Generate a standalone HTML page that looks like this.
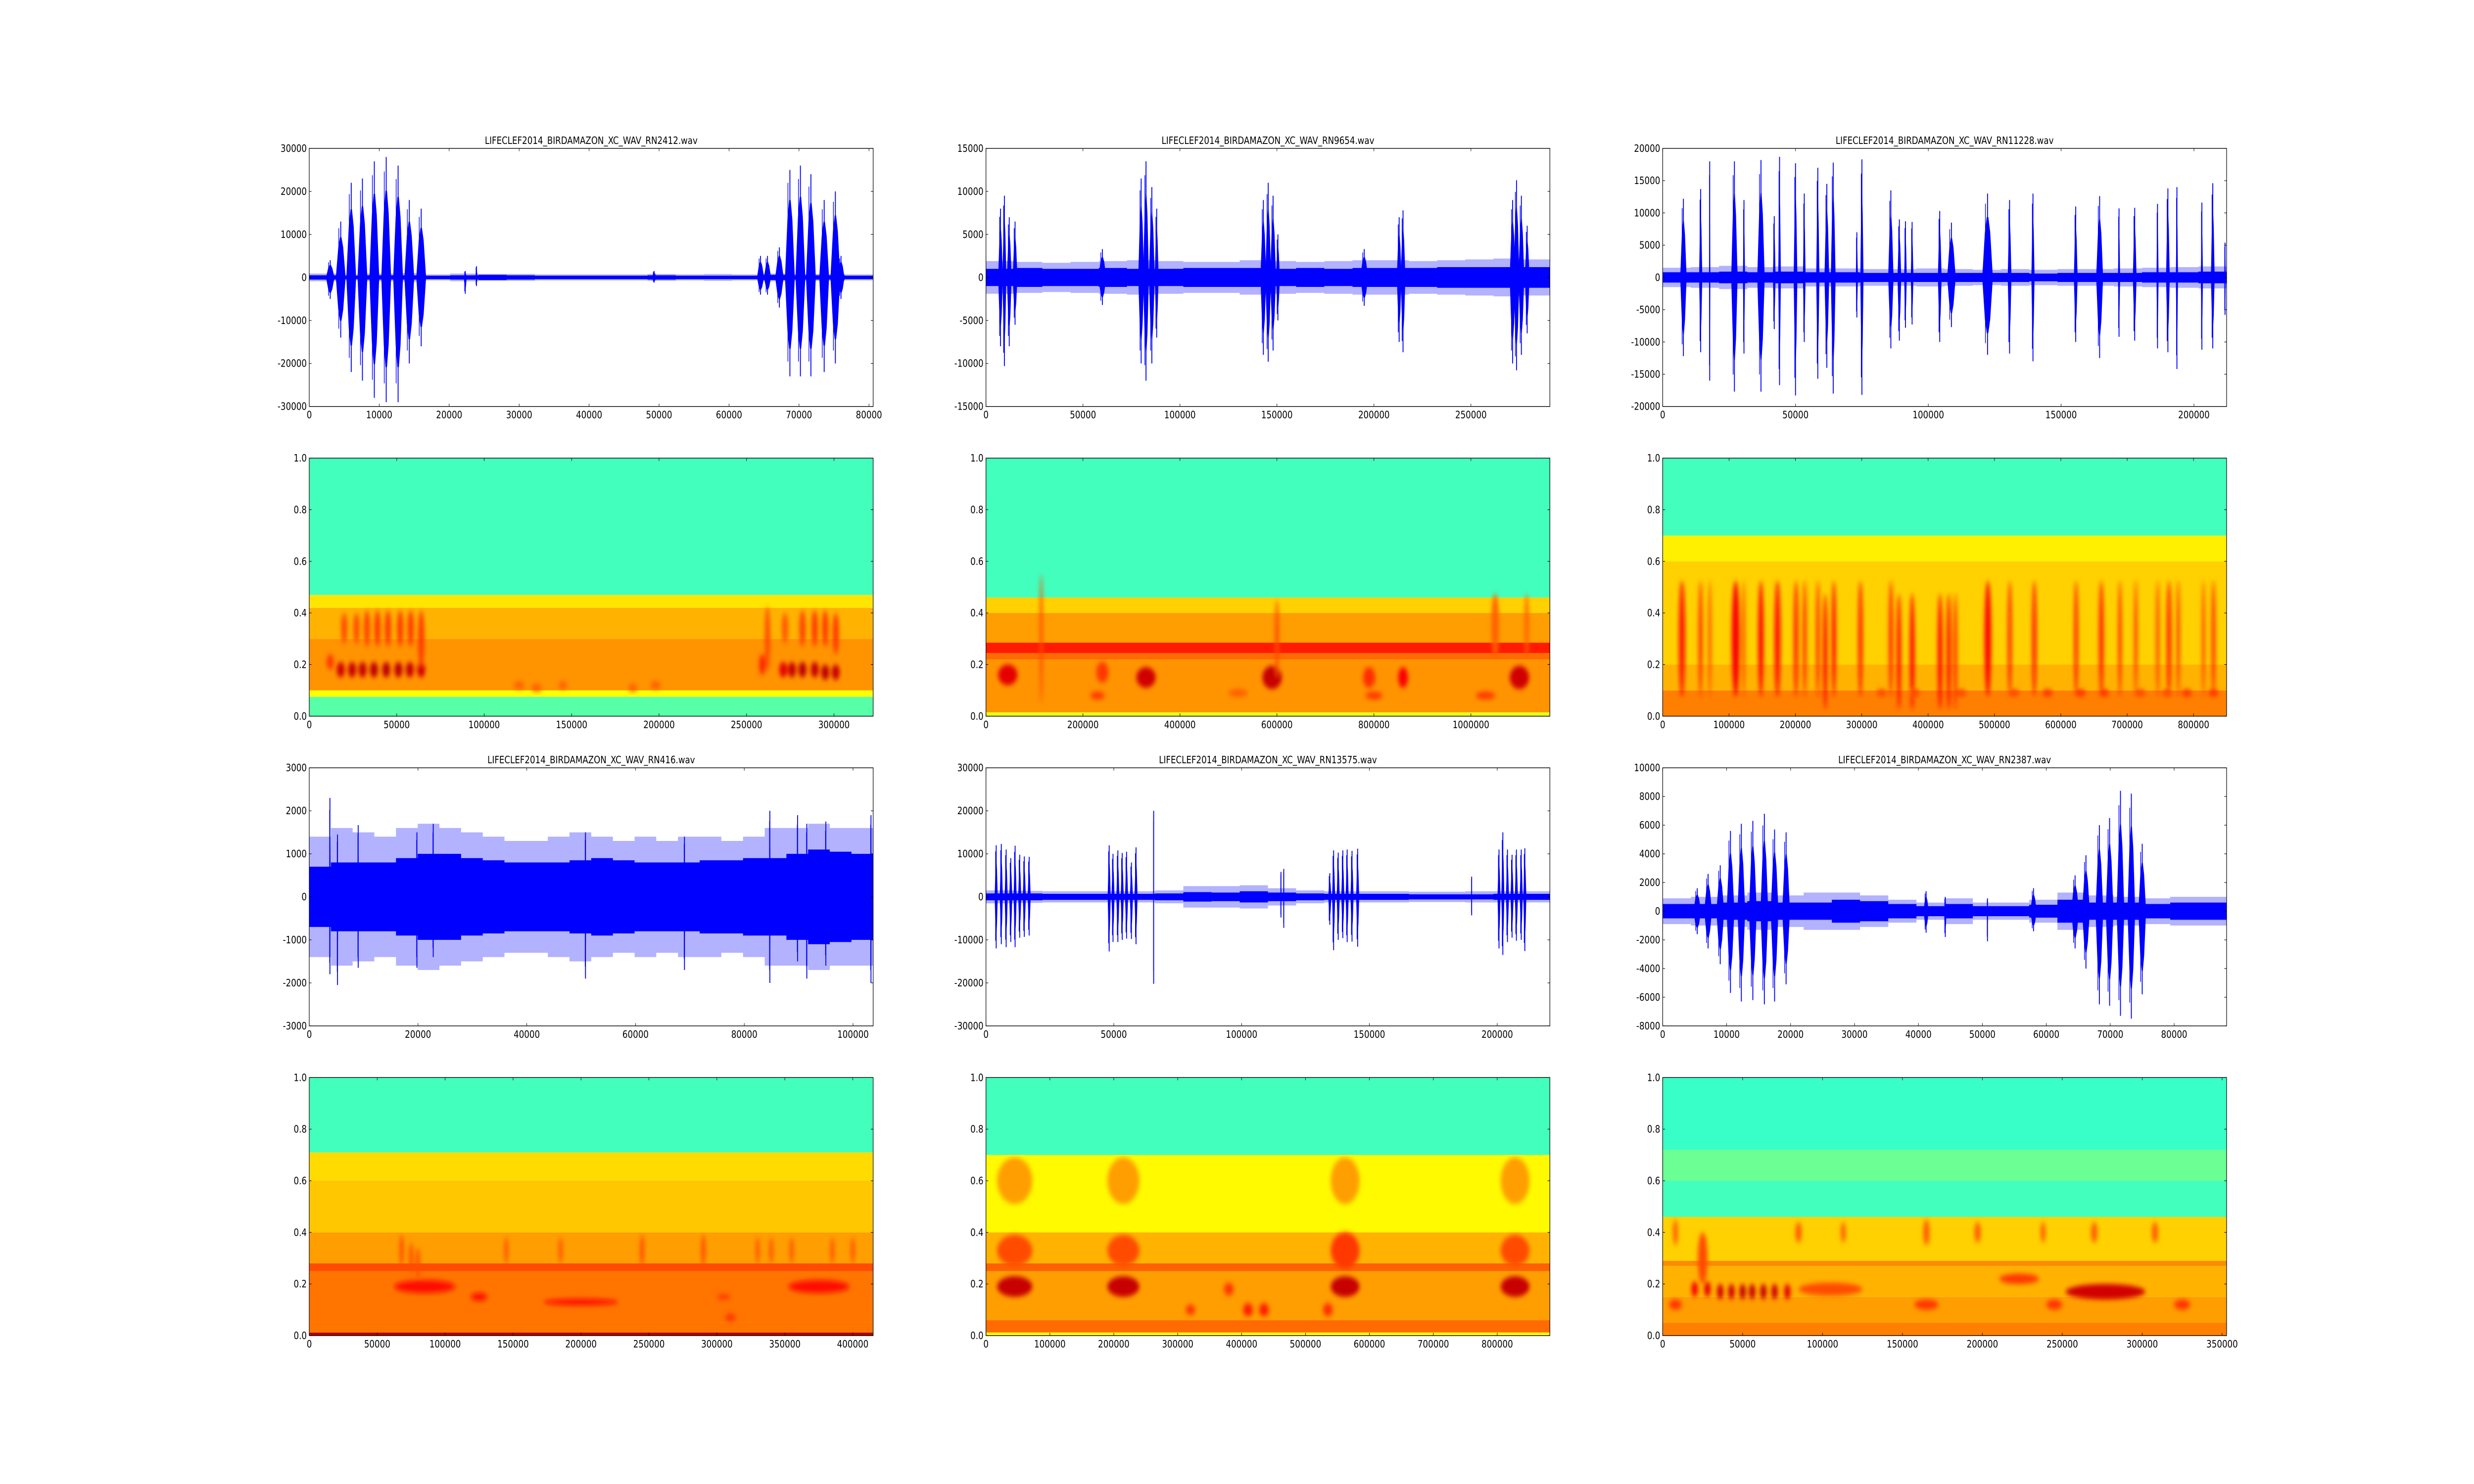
<!DOCTYPE html>
<html>
<head>
<meta charset="utf-8">
<style>
html,body{margin:0;padding:0;background:#fff;overflow:hidden;width:100vw;height:100vh;}
svg{display:block;width:100vw;height:100vh;}
text{font-family:"DejaVu Sans","Liberation Sans",sans-serif;font-size:20px;fill:#000;}
</style>
</head>
<body>
<svg id="fig" xmlns="http://www.w3.org/2000/svg" viewBox="0 0 6000 3000" preserveAspectRatio="none">
<defs>
<filter id="bl" x="-50%" y="-50%" width="200%" height="200%"><feGaussianBlur stdDeviation="5"/></filter>
</defs>
<rect x="0" y="0" width="6000" height="3000" fill="#fff"/>
</svg>
<script>
// ---------- Waveform data ----------
const w1Title = "LIFECLEF2014_BIRDAMAZON_XC_WAV_RN2412.wav";
const w1XTicks = [0,10000,20000,30000,40000,50000,60000,70000,80000];
const w1YTicks = [-30000,-20000,-10000,0,10000,20000,30000];
const w1Range = [80600,-30000,30000];
const w1Sylls = [[3000,600,4000,-5000],[4500,700,13000,-14000],[6000,700,22000,-22000],[7600,700,23000,-24000],[9300,700,27000,-28000],[11000,700,28000,-29000],[12700,700,26000,-29000],[14300,700,18000,-20000],[16000,700,16000,-16000],[22300,200,1500,-3800],[23900,150,2600,-2000],[49300,300,1500,-1200],[64500,500,5000,-4000],[65500,500,5000,-4000],[67200,600,7000,-7000],[68700,700,25000,-23000],[70200,700,26000,-23000],[71700,700,24000,-23000],[73600,700,18000,-22000],[75200,700,20000,-20000],[76000,500,5000,-5000]];
const w1Noise = [500,400,500,500,400,500,600,500,400,400,400,400,500,400,400,400,600,500,500,400];
const w1Peak = [900,700,900,1000,700,900,800,800,700,700,700,700,800,700,800,700,900,800,800,700];

const w2Title = "LIFECLEF2014_BIRDAMAZON_XC_WAV_RN9654.wav";
const w2XTicks = [0,50000,100000,150000,200000,250000];
const w2YTicks = [-15000,-10000,-5000,0,5000,10000,15000];
const w2Range = [290700,-15000,15000];
const w2Sylls = [[7500,1200,8000,-8000],[9500,1000,9500,-10300],[12000,1200,7000,-8000],[15000,1200,6500,-5500],[60000,2000,3300,-3200],[80000,1500,11500,-10000],[82500,1500,13500,-12000],[85500,1500,10500,-10000],[88000,1000,8000,-7000],[143000,1500,9000,-9000],[145500,1500,11000,-9800],[148000,1500,9500,-8500],[150500,1000,5000,-5000],[195000,2000,3300,-3300],[213000,1200,7000,-7500],[215000,1200,7800,-8700],[271500,1500,9000,-10000],[273500,1500,11300,-10800],[276000,1500,9500,-9000],[279000,1200,6000,-6500]];
const w2Noise = [1000,1100,1000,1000,1100,1000,1000,1100,1100,1100,1000,1100,1000,1100,1100,1100,1200,1200,1200,1200];
const w2Peak = [1900,1800,1700,1800,1900,2000,1900,1800,1800,2000,1900,1800,1900,2000,2000,1900,2000,2100,2200,2100];

const w3Title = "LIFECLEF2014_BIRDAMAZON_XC_WAV_RN11228.wav";
const w3XTicks = [0,50000,100000,150000,200000];
const w3YTicks = [-20000,-15000,-10000,-5000,0,5000,10000,15000,20000];
const w3Range = [212300,-20000,20000];
const w3Sylls = [[7800,1200,12200,-12200],[14300,600,13700,-11600],[17700,250,18000,-16000],[27000,1200,18000,-17700],[30600,400,12000,-11800],[37000,1400,18200,-17700],[42000,500,9500,-8000],[44000,500,18700,-16700],[50000,700,17700,-18300],[53300,500,13000,-10000],[58400,600,17000,-15700],[61800,900,14500,-14000],[64200,900,17800,-18000],[73100,400,7000,-6200],[75000,600,18300,-18200],[85900,1000,13500,-11000],[89100,700,9000,-9800],[91400,500,8700,-7800],[93900,500,8600,-7300],[104300,700,10300,-10000],[108700,1600,8500,-7700],[122300,2000,13000,-12000],[130600,700,12000,-11800],[139400,600,13000,-13000],[155500,700,11000,-10000],[164500,1300,12600,-12500],[171800,400,10700,-9200],[177700,700,10800,-9800],[186300,400,11400,-11000],[190200,700,13800,-11600],[193600,400,14000,-14200],[203000,400,11600,-11200],[207100,700,14600,-11000],[211700,300,5400,-5800]];
const w3Noise = [800,800,900,800,900,800,800,700,700,700,700,700,700,600,700,700,700,800,800,900];
const w3Peak = [1500,1600,1800,1600,1700,1400,1400,1300,1300,1400,1300,1200,1300,1200,1300,1300,1400,1500,1600,1700];

const w4Title = "LIFECLEF2014_BIRDAMAZON_XC_WAV_RN416.wav";
const w4XTicks = [0,20000,40000,60000,80000,100000];
const w4YTicks = [-3000,-2000,-1000,0,1000,2000,3000];
const w4Range = [103700,-3000,3000];
const w4Sylls = [[3800,150,2300,-1800],[5200,150,1450,-2050],[9000,150,1670,-1650],[19800,150,1500,-1650],[22800,150,1700,-1400],[50800,150,1500,-1900],[69000,150,1400,-1700],[84700,150,2000,-2000],[89800,150,1900,-1500],[91500,150,1700,-1900],[95000,150,1750,-1600],[103300,150,1900,-2000]];
const w4Noise = [700,800,800,800,900,1000,1000,900,850,800,800,800,850,900,850,800,800,800,850,850,900,900,1000,1100,1050,1000];
const w4Peak = [1400,1600,1500,1400,1600,1700,1600,1500,1400,1300,1300,1400,1500,1400,1300,1400,1300,1400,1400,1300,1400,1600,1600,1700,1600,1600];

const w5Title = "LIFECLEF2014_BIRDAMAZON_XC_WAV_RN13575.wav";
const w5XTicks = [0,50000,100000,150000,200000];
const w5YTicks = [-30000,-20000,-10000,0,10000,20000,30000];
const w5Range = [220600,-30000,30000];
const w5Sylls = [[4000,600,12000,-12000],[6000,600,12300,-11000],[7900,600,11000,-11700],[9700,600,9000,-10500],[11400,600,11900,-11700],[13200,600,9800,-9500],[15000,600,9400,-9300],[16900,600,9300,-9000],[48200,600,12000,-12700],[49700,600,10000,-10500],[51600,600,10800,-10500],[53300,600,10200,-10000],[55000,600,10500,-9700],[56900,600,8000,-9800],[58700,600,11500,-11000],[65600,120,20000,-20200],[115400,200,5800,-4800],[116500,200,6500,-7200],[134500,600,5500,-6500],[136000,600,10800,-12400],[137800,600,10300,-10000],[139600,600,10800,-9600],[141300,600,11000,-10500],[143200,600,10700,-10400],[145400,600,11200,-11600],[190000,150,4700,-4300],[200700,600,11000,-12000],[202200,600,15000,-13500],[204000,600,11000,-10500],[205800,600,9800,-9500],[207500,600,11000,-10200],[209400,600,11000,-10000],[210800,600,11300,-12600]];
const w5Noise = [800,800,700,700,700,700,800,1100,1000,1300,1000,800,700,700,700,600,600,600,700,700];
const w5Peak = [1500,1400,1300,1300,1300,1300,1500,2500,2500,2700,2000,1500,1300,1300,1300,1200,1200,1300,1300,1300];

const w6Title = "LIFECLEF2014_BIRDAMAZON_XC_WAV_RN2387.wav";
const w6XTicks = [0,10000,20000,30000,40000,50000,60000,70000,80000];
const w6YTicks = [-8000,-6000,-4000,-2000,0,2000,4000,6000,8000,10000];
const w6Range = [88200,-8000,10000];
const w6Sylls = [[5400,600,1600,-1600],[7100,600,2600,-2600],[9000,600,3200,-3700],[10600,600,5600,-5700],[12300,600,6100,-6300],[14100,600,6300,-6200],[15900,600,6800,-6500],[17500,600,5700,-6300],[19300,600,5500,-5100],[41200,400,1400,-1500],[44200,200,1000,-1800],[50800,100,900,-2100],[58000,500,1600,-1400],[64500,600,2500,-2600],[66200,600,3900,-4000],[68300,600,6000,-6500],[69900,600,6500,-6600],[71600,600,8400,-7300],[73300,600,8200,-7500],[75000,600,4700,-5800]];
const w6Noise = [500,500,600,700,600,600,800,700,500,350,500,350,350,450,800,600,600,500,600,600];
const w6Peak = [900,1000,1100,1300,1100,1300,1300,1100,800,600,900,600,600,800,1300,1100,1000,900,1000,1000];

// ---------- Spectrogram data ----------
const sYTicks = [0,0.2,0.4,0.6,0.8,1.0];
const s1XTicks = [0,50000,100000,150000,200000,250000,300000];
const s1XMax = 322400;
const s1Bands = [[0,0.075,0.46],[0.075,0.1,0.62],[0.1,0.3,0.73],[0.3,0.42,0.7],[0.42,0.47,0.65],[0.47,1,0.44]];
const s1Events = [[12000,0.21,4000,0.06,0.82],[18000,0.18,4500,0.06,0.92],[24500,0.18,4500,0.06,0.93],[30500,0.18,4500,0.06,0.93],[37000,0.18,4500,0.06,0.94],[44000,0.18,4500,0.06,0.94],[51000,0.18,4500,0.06,0.94],[57500,0.18,4500,0.06,0.93],[64000,0.18,4500,0.06,0.92],[20000,0.34,3500,0.12,0.8],[27000,0.34,3500,0.12,0.8],[33000,0.34,3500,0.14,0.81],[39000,0.34,3500,0.14,0.82],[45000,0.34,3500,0.14,0.82],[52000,0.34,3500,0.14,0.82],[58000,0.34,3500,0.14,0.82],[64000,0.3,3500,0.22,0.82],[259000,0.2,3500,0.08,0.84],[262000,0.3,3000,0.25,0.8],[271000,0.18,4500,0.06,0.9],[276000,0.18,4500,0.06,0.93],[282000,0.18,4500,0.06,0.94],[289000,0.18,4500,0.06,0.93],[295000,0.17,4500,0.06,0.94],[301000,0.17,4500,0.06,0.93],[272000,0.34,3500,0.12,0.79],[282000,0.34,3500,0.14,0.81],[289000,0.34,3500,0.14,0.82],[295000,0.34,3500,0.14,0.82],[301000,0.32,3500,0.16,0.82],[120000,0.12,6000,0.03,0.78],[130000,0.11,6000,0.03,0.78],[145000,0.12,5000,0.03,0.78],[185000,0.11,5000,0.03,0.78],[198000,0.12,6000,0.03,0.78]];

const s2XTicks = [0,200000,400000,600000,800000,1000000];
const s2XMax = 1162800;
const s2Bands = [[0,0.015,0.6],[0.015,0.22,0.73],[0.22,0.245,0.77],[0.245,0.285,0.85],[0.285,0.4,0.72],[0.4,0.46,0.67],[0.46,1,0.44]];
const s2Events = [[45000,0.16,40000,0.08,0.9],[114000,0.3,6000,0.5,0.8],[330000,0.15,40000,0.08,0.92],[240000,0.17,25000,0.08,0.82],[230000,0.08,30000,0.03,0.82],[590000,0.15,40000,0.09,0.93],[600000,0.3,8000,0.3,0.8],[790000,0.15,25000,0.08,0.83],[800000,0.08,35000,0.03,0.82],[860000,0.15,20000,0.08,0.88],[1030000,0.08,40000,0.03,0.82],[1100000,0.15,40000,0.09,0.92],[1050000,0.35,15000,0.25,0.78],[1115000,0.35,8000,0.25,0.78],[520000,0.09,40000,0.03,0.78]];

const s3XTicks = [0,100000,200000,300000,400000,500000,600000,700000,800000];
const s3XMax = 849800;
const s3Bands = [[0,0.1,0.75],[0.1,0.2,0.7],[0.2,0.6,0.67],[0.6,0.7,0.64],[0.7,1,0.44]];
const s3Events = [[29000,0.3,9000,0.45,0.86],[57000,0.3,6000,0.45,0.83],[71000,0.3,4000,0.45,0.82],[110000,0.3,12000,0.45,0.88],[122000,0.3,4000,0.45,0.82],[148000,0.3,8000,0.45,0.87],[173000,0.3,9000,0.45,0.86],[201000,0.3,6000,0.45,0.86],[214000,0.3,5000,0.45,0.85],[234000,0.3,5000,0.45,0.85],[245000,0.25,6000,0.45,0.88],[258000,0.3,6000,0.45,0.87],[298000,0.3,6000,0.45,0.86],[344000,0.3,6000,0.45,0.85],[356000,0.25,6000,0.45,0.87],[376000,0.25,7000,0.45,0.87],[418000,0.25,7000,0.45,0.87],[431000,0.25,6000,0.45,0.87],[441000,0.25,5000,0.45,0.85],[490000,0.3,10000,0.45,0.87],[523000,0.3,5000,0.45,0.86],[560000,0.3,6000,0.45,0.86],[623000,0.3,5000,0.45,0.86],[661000,0.3,7000,0.45,0.85],[689000,0.3,4000,0.45,0.86],[713000,0.3,4000,0.45,0.85],[746000,0.3,4000,0.45,0.84],[763000,0.3,6000,0.45,0.86],[777000,0.3,4000,0.45,0.85],[815000,0.3,4000,0.45,0.83],[830000,0.3,5000,0.45,0.85],[330000,0.09,15000,0.03,0.8],[380000,0.09,15000,0.03,0.8],[450000,0.09,15000,0.03,0.8],[530000,0.09,15000,0.03,0.8],[580000,0.09,15000,0.03,0.82],[630000,0.09,15000,0.03,0.82],[665000,0.09,15000,0.03,0.82],[720000,0.09,15000,0.03,0.8],[760000,0.09,15000,0.03,0.8],[790000,0.09,15000,0.03,0.82],[830000,0.09,15000,0.03,0.82]];

const s4XTicks = [0,50000,100000,150000,200000,250000,300000,350000,400000];
const s4XMax = 415000;
const s4Bands = [[0,0.012,0.95],[0.012,0.05,0.76],[0.05,0.25,0.76],[0.25,0.28,0.8],[0.28,0.4,0.72],[0.4,0.6,0.68],[0.6,0.71,0.66],[0.71,1,0.44]];
const s4Events = [[85000,0.19,45000,0.05,0.86],[125000,0.15,12000,0.03,0.86],[200000,0.13,55000,0.025,0.86],[375000,0.19,45000,0.05,0.86],[305000,0.15,10000,0.02,0.82],[310000,0.07,8000,0.03,0.82],[68000,0.33,3000,0.12,0.8],[75000,0.3,3000,0.12,0.8],[80000,0.28,3000,0.12,0.8],[145000,0.33,3000,0.1,0.79],[185000,0.33,3000,0.1,0.79],[245000,0.33,3000,0.12,0.8],[290000,0.33,3000,0.12,0.8],[330000,0.33,3000,0.1,0.79],[340000,0.33,3000,0.1,0.79],[355000,0.33,3000,0.1,0.79],[385000,0.33,3000,0.1,0.79],[400000,0.33,3000,0.1,0.79]];

const s5XTicks = [0,100000,200000,300000,400000,500000,600000,700000,800000];
const s5XMax = 882400;
const s5Bands = [[0,0.012,0.62],[0.012,0.06,0.77],[0.06,0.25,0.72],[0.25,0.28,0.78],[0.28,0.4,0.7],[0.4,0.7,0.63],[0.7,1,0.44]];
const s5Events = [[45000,0.19,55000,0.08,0.93],[45000,0.6,55000,0.18,0.72],[45000,0.33,55000,0.12,0.8],[215000,0.19,50000,0.08,0.93],[215000,0.6,50000,0.18,0.72],[215000,0.33,50000,0.12,0.8],[562000,0.19,45000,0.08,0.93],[562000,0.6,45000,0.18,0.72],[562000,0.33,45000,0.14,0.82],[828000,0.19,45000,0.08,0.93],[828000,0.6,45000,0.18,0.72],[828000,0.33,45000,0.12,0.8],[320000,0.1,15000,0.04,0.82],[410000,0.1,15000,0.05,0.85],[435000,0.1,15000,0.05,0.85],[535000,0.1,15000,0.05,0.83],[380000,0.18,15000,0.05,0.82]];

const s6XTicks = [0,50000,100000,150000,200000,250000,300000,350000];
const s6XMax = 352800;
const s6Bands = [[0,0.05,0.75],[0.05,0.15,0.72],[0.15,0.27,0.7],[0.27,0.29,0.74],[0.29,0.46,0.67],[0.46,0.6,0.44],[0.6,0.72,0.48],[0.72,1,0.43]];
const s6Events = [[20000,0.18,4000,0.06,0.88],[28000,0.18,4000,0.06,0.9],[36000,0.17,4000,0.06,0.92],[43000,0.17,4000,0.06,0.92],[50000,0.17,4000,0.06,0.93],[56000,0.17,4000,0.06,0.93],[63000,0.17,4000,0.06,0.93],[70000,0.17,4000,0.06,0.92],[78000,0.17,4000,0.06,0.9],[105000,0.18,40000,0.05,0.8],[223000,0.22,25000,0.04,0.82],[277000,0.17,50000,0.06,0.92],[8000,0.12,8000,0.04,0.82],[165000,0.12,15000,0.04,0.82],[245000,0.12,10000,0.04,0.82],[325000,0.12,10000,0.04,0.82],[8000,0.4,3000,0.1,0.78],[85000,0.4,4000,0.08,0.78],[113000,0.4,3000,0.08,0.78],[165000,0.4,4000,0.1,0.78],[197000,0.4,4000,0.08,0.78],[238000,0.4,3000,0.08,0.78],[270000,0.4,4000,0.08,0.78],[308000,0.4,4000,0.08,0.78],[25000,0.3,6000,0.2,0.8]];

// ---------- Layout ----------
const SVGNS = "http://www.w3.org/2000/svg";
const fig = document.getElementById('fig');
const COLS = [750, 2391.2, 4032.4], AW = 1367.6;
const ROWS = [300, 926.1, 1552.2, 2178.3], AH = 521.7;

function mk(tag, attrs, parent){
  const el = document.createElementNS(SVGNS, tag);
  for (const k in attrs) el.setAttribute(k, attrs[k]);
  (parent||fig).appendChild(el);
  return el;
}
function jet(v){
  const c = t => Math.max(0, Math.min(1, t));
  const r = c(1.5 - Math.abs(4*v - 3)), g = c(1.5 - Math.abs(4*v - 2)), b = c(1.5 - Math.abs(4*v - 1));
  return 'rgb(' + Math.round(r*255) + ',' + Math.round(g*255) + ',' + Math.round(b*255) + ')';
}
function fmt(v, spec){ return spec ? v.toFixed(1) : String(v); }

function drawAxesFrame(g, ax, xTicks, yTicks, sx, sy, spec, name){
  const frame = mk('rect', {x:ax.x, y:ax.y, width:AW, height:AH, fill:'none', stroke:'#000', 'stroke-width':1.4}, g);
  
  
  xTicks.forEach(v => {
    const x = sx(v);
    const t1 = mk('line', {x1:x, x2:x, y1:ax.y+AH, y2:ax.y+AH-5.6, stroke:'#000', 'stroke-width':1.1}, g);
    
    
    const t2 = mk('line', {x1:x, x2:x, y1:ax.y, y2:ax.y+5.6, stroke:'#000', 'stroke-width':1.1}, g);
    
    
    const lb = mk('text', {x:x, y:ax.y+AH+24, 'text-anchor':'middle'}, g);
    lb.textContent = fmt(v, false);
    
    
  });
  yTicks.forEach(v => {
    const y = sy(v);
    const t1 = mk('line', {x1:ax.x, x2:ax.x+5.6, y1:y, y2:y, stroke:'#000', 'stroke-width':1.1}, g);
    
    
    const t2 = mk('line', {x1:ax.x+AW, x2:ax.x+AW-5.6, y1:y, y2:y, stroke:'#000', 'stroke-width':1.1}, g);
    
    
    const lb = mk('text', {x:ax.x-6, y:y+7, 'text-anchor':'end'}, g);
    lb.textContent = fmt(v, spec);
    
    
  });
}

function drawWave(col, row, title, xTicks, yTicks, range, sylls, noise, peak, name){
  const ax = {x:COLS[col], y:ROWS[row]};
  const [xmax, ymin, ymax] = range;
  const sx = v => ax.x + v / xmax * AW;
  const sy = v => ax.y + (ymax - v) / (ymax - ymin) * AH;
  const g = mk('g', {});
  
  
  const cid = 'clip-' + name;
  const cp = mk('clipPath', {id:cid}, g);
  mk('rect', {x:ax.x, y:ax.y, width:AW, height:AH}, cp);
  const data = mk('g', {'clip-path':'url(#' + cid + ')'}, g);
  
  
  function env(arr, opacity, nm){
    const n = arr.length, bw = xmax / n;
    let top = [], bot = [];
    arr.forEach((a, i) => {
      top.push(sx(i*bw) + ',' + sy(a)); top.push(sx((i+1)*bw) + ',' + sy(a));
      bot.push(sx(i*bw) + ',' + sy(-a)); bot.push(sx((i+1)*bw) + ',' + sy(-a));
    });
    const p = mk('polygon', {points: top.concat(bot.reverse()).join(' '), fill:'#0000ff', 'fill-opacity':opacity}, data);
    
    
  }
  env(peak, 0.3, name + '-noise-peaks');
  env(noise, 1, name + '-noise-floor');
  sylls.forEach(s => {
    const [c, hw, up, dn] = s;
    const bu = up * 0.72, bd = dn * 0.72;
    const pts = [[c-hw,0],[c-0.5*hw,0.75*bu],[c-0.15*hw,bu],[c+0.15*hw,bu],[c+0.5*hw,0.75*bu],[c+hw,0],[c+0.5*hw,0.75*bd],[c+0.15*hw,bd],[c-0.15*hw,bd],[c-0.5*hw,0.75*bd]];
    const p = mk('polygon', {points: pts.map(q => sx(q[0]) + ',' + sy(q[1])).join(' '), fill:'#0000ff'}, data);
    
    
    const l = mk('line', {x1:sx(c), x2:sx(c), y1:sy(up), y2:sy(dn), stroke:'#0000ff', 'stroke-width':2.2}, data);
    
    
    const l2 = mk('line', {x1:sx(c-0.4*hw), x2:sx(c-0.4*hw), y1:sy(up*0.88), y2:sy(dn*0.85), stroke:'#0000ff', 'stroke-width':1.6}, data);
    
    
  });
  const zl = mk('line', {x1:ax.x, x2:ax.x+AW, y1:sy(0), y2:sy(0), stroke:'#0000ff', 'stroke-width':1.4}, data);
  
  
  drawAxesFrame(g, ax, xTicks, yTicks, sx, sy, false, name);
  const tt = mk('text', {x:ax.x+AW/2, y:ax.y-9, 'text-anchor':'middle'}, g);
  tt.textContent = title;
  
  
}

function drawSpec(col, row, xTicks, xmax, bands, events, name){
  const ax = {x:COLS[col], y:ROWS[row]};
  const sx = v => ax.x + v / xmax * AW;
  const sy = v => ax.y + (1 - v) * AH;
  const g = mk('g', {});
  
  
  const cid = 'clip-' + name;
  const cp = mk('clipPath', {id:cid}, g);
  mk('rect', {x:ax.x, y:ax.y, width:AW, height:AH}, cp);
  const data = mk('g', {'clip-path':'url(#' + cid + ')'}, g);
  
  
  bands.forEach(b => {
    const [f0, f1, v] = b;
    const r = mk('rect', {x:ax.x, y:sy(f1), width:AW, height:sy(f0)-sy(f1), fill:jet(v)}, data);
    
    
  });
  const eg = mk('g', {filter:'url(#bl)'}, data);
  
  
  events.forEach(e => {
    const [t, f, dt, df, v] = e;
    const el = mk('ellipse', {cx:sx(t), cy:sy(f), rx:Math.max(3, dt/xmax*AW/2), ry:df*AH/2, fill:jet(v)}, eg);
    
    
  });
  drawAxesFrame(g, ax, xTicks, sYTicks, sx, sy, true, name);
}

drawWave(0, 0, w1Title, w1XTicks, w1YTicks, w1Range, w1Sylls, w1Noise, w1Peak, 'waveform-rn2412');
drawWave(1, 0, w2Title, w2XTicks, w2YTicks, w2Range, w2Sylls, w2Noise, w2Peak, 'waveform-rn9654');
drawWave(2, 0, w3Title, w3XTicks, w3YTicks, w3Range, w3Sylls, w3Noise, w3Peak, 'waveform-rn11228');
drawWave(0, 2, w4Title, w4XTicks, w4YTicks, w4Range, w4Sylls, w4Noise, w4Peak, 'waveform-rn416');
drawWave(1, 2, w5Title, w5XTicks, w5YTicks, w5Range, w5Sylls, w5Noise, w5Peak, 'waveform-rn13575');
drawWave(2, 2, w6Title, w6XTicks, w6YTicks, w6Range, w6Sylls, w6Noise, w6Peak, 'waveform-rn2387');
drawSpec(0, 1, s1XTicks, s1XMax, s1Bands, s1Events, 'spectrogram-rn2412');
drawSpec(1, 1, s2XTicks, s2XMax, s2Bands, s2Events, 'spectrogram-rn9654');
drawSpec(2, 1, s3XTicks, s3XMax, s3Bands, s3Events, 'spectrogram-rn11228');
drawSpec(0, 3, s4XTicks, s4XMax, s4Bands, s4Events, 'spectrogram-rn416');
drawSpec(1, 3, s5XTicks, s5XMax, s5Bands, s5Events, 'spectrogram-rn13575');
drawSpec(2, 3, s6XTicks, s6XMax, s6Bands, s6Events, 'spectrogram-rn2387');
</script>
</body>
</html>
